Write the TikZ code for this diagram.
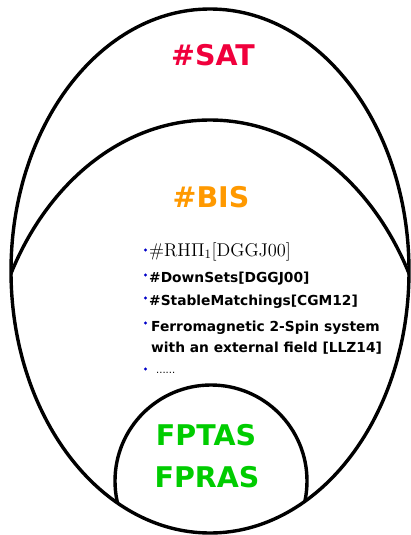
\documentclass[tikz,border=0pt]{standalone}
\usepackage{graphicx}
\usepackage[no-math]{fontspec}
\setmainfont{DejaVu Sans}
\usetikzlibrary{positioning}

\definecolor{satred}{RGB}{240,0,60}
\definecolor{bisorange}{RGB}{255,153,0}
\definecolor{fpgreen}{RGB}{0,204,0}
\definecolor{dotblue}{RGB}{0,0,200}

\begin{document}
\begin{tikzpicture}[
  x=1pt, y=-1pt,
  class/.style={
      line width=3.4pt,
      draw=black
    },
  title/.style={
      font=\fontsize{28.5}{32}\selectfont\bfseries,
      inner sep=0pt
    },
  item/.style={
      anchor=base west,
      inner sep=0pt,
      font=\fontsize{13.8}{16}\selectfont\bfseries
    },
  bullet/.style={
      circle,
      fill=dotblue,
      inner sep=0pt,
      minimum size=3.4pt
    }]
  \useasboundingbox (0,0) rectangle (410,535);

  % #SAT
  \draw [class] (210,271) ellipse [x radius=199pt, y radius=262pt];

  % #BIS, cut by #SAT
  \begin{scope}
    \clip (210,271) ellipse [x radius=199pt, y radius=262pt];
    \draw [class] (210,400) ellipse [x radius=223pt, y radius=280pt];
    \draw [class] (211,481) circle [radius=96pt];
  \end{scope}

  \node [title, text=satred] (sat) at (213,55) {\#SAT};
  \node [title, text=bisorange] (bis) at (211,197) {\#BIS};

  \node [item, font=\fontsize{14.4}{16}\selectfont] (rh) at (149,256)
    {\scalebox{1.28}{$\#\mathrm{RH}\Pi_1[\mathrm{DGGJ}00]$}};
  \node [item] (down) at (149,282) {\#DownSets[DGGJ00]};
  \node [item] (stable) at (149,305) {\#StableMatchings[CGM12]};
  \node [item] (ferro) at (151,331) {Ferromagnetic 2-Spin system};
  \node [item] (field) at (151,352) {with an external field [LLZ14]};
  \node [item] (etc) at (156,373) {\fontsize{10}{12}\selectfont\mdseries ......};

  \node [bullet] at (145.5,250) {};
  \node [bullet] at (145.5,275) {};
  \node [bullet] at (145.5,298) {};
  \node [bullet] at (145.5,323) {};
  \node [bullet] at (145.5,369) {};

  \node [title, text=fpgreen] (fptas) at (206,435) {FPTAS};
  \node [title, text=fpgreen] (fpras) at (207,477) {FPRAS};
\end{tikzpicture}
\end{document}
